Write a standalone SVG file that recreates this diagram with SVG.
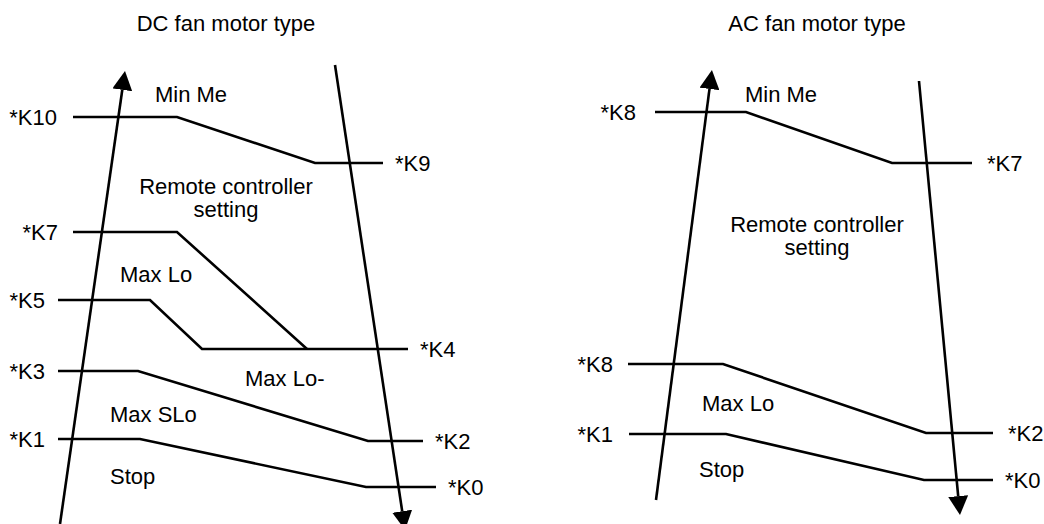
<svg xmlns="http://www.w3.org/2000/svg" width="1044" height="524" viewBox="0 0 1044 524">
<style>
text{font-family:"Liberation Sans",Arial,sans-serif;font-size:22px;fill:#000}
.ln{fill:none;stroke:#000;stroke-width:2.6;stroke-linejoin:miter}
.ax{fill:none;stroke:#000;stroke-width:2.6;marker-end:url(#ah)}
.e{text-anchor:end}
.m{text-anchor:middle}
</style>
<defs>
<marker id="ah" markerUnits="userSpaceOnUse" markerWidth="20" markerHeight="20" refX="0" refY="10" orient="auto">
<path d="M0,0 L19,10 L0,20 z" fill="#000"/>
</marker>
</defs>
<rect width="1044" height="524" fill="#fff"/>
<g id="dc">
<text class="m" x="226" y="31">DC fan motor type</text>
<g id="connectors-dc">
<line class="ax" x1="60" y1="524" x2="122.3" y2="89.8"/>
<line class="ax" x1="335" y1="65" x2="402.2" y2="511.2"/>
</g>
<g id="dc-k10"><polyline class="ln" points="73,117 177,117 315,163 383,163"/><text class="e" x="57" y="125">*K10</text><text x="395" y="171">*K9</text></g>
<g id="dc-k7"><polyline class="ln" points="73,232 177,232 307,349"/><text class="e" x="58" y="240">*K7</text></g>
<g id="dc-k5"><polyline class="ln" points="58,300 150,300 202,349 408,349"/><text class="e" x="45" y="308">*K5</text><text x="420" y="357">*K4</text></g>
<g id="dc-k3"><polyline class="ln" points="58,371 138,371 368,441 423,441"/><text class="e" x="45" y="379">*K3</text><text x="435" y="449">*K2</text></g>
<g id="dc-k1"><polyline class="ln" points="58,439 140,439 366,487 436,487"/><text class="e" x="45" y="447">*K1</text><text x="448" y="495">*K0</text></g>
<g id="dc-labels">
<text class="m" x="191" y="102">Min Me</text>
<text class="m" x="226" y="194">Remote controller</text>
<text class="m" x="226" y="217">setting</text>
<text x="120" y="282">Max Lo</text>
<text x="245" y="386">Max Lo-</text>
<text x="110" y="422">Max SLo</text>
<text x="110" y="484">Stop</text>
</g>
</g>
<g id="ac">
<text class="m" x="817" y="31">AC fan motor type</text>
<g id="connectors-ac">
<line class="ax" x1="656" y1="500" x2="709.5" y2="88.9"/>
<line class="ax" x1="919" y1="81" x2="958.2" y2="496.1"/>
</g>
<g id="ac-k8top"><polyline class="ln" points="655,112 746,112 892,163 972,163"/><text class="e" x="636" y="120">*K8</text><text x="987" y="171">*K7</text></g>
<g id="ac-k8"><polyline class="ln" points="628,364 723,364 926,433 993,433"/><text class="e" x="613" y="372">*K8</text><text x="1008" y="441">*K2</text></g>
<g id="ac-k1"><polyline class="ln" points="629,434 726,434 924,480 993,480"/><text class="e" x="613" y="442">*K1</text><text x="1005" y="488">*K0</text></g>
<g id="ac-labels">
<text class="m" x="781" y="102">Min Me</text>
<text class="m" x="817" y="232">Remote controller</text>
<text class="m" x="817" y="255">setting</text>
<text x="702" y="411">Max Lo</text>
<text x="699" y="477">Stop</text>
</g>
</g>
</svg>
